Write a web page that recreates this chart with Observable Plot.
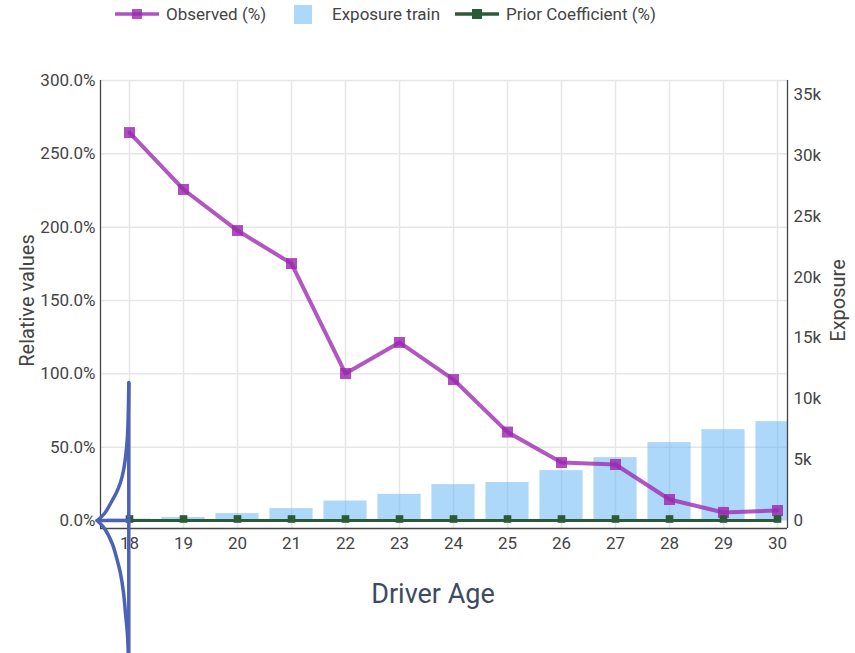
<!DOCTYPE html>
<html><head><meta charset="utf-8">
<script src="https://cdn.jsdelivr.net/npm/d3@7"></script>
<script src="https://cdn.jsdelivr.net/npm/@observablehq/plot@0.6"></script>
<style>
body{margin:0;background:#fff;font-family:Roboto,sans-serif;}
#legend{position:relative;width:855px;height:30px;font-size:17px;color:#444;}
.item{position:absolute;top:3px;height:22px;display:flex;align-items:center;white-space:nowrap;}
#chart svg{display:block;overflow:visible;}
</style></head><body>
<div id="legend"></div>
<div id="chart"></div>
<script>
// ---- data ----
const ages = [18, 19, 20, 21, 22, 23, 24, 25, 26, 27, 28, 29, 30];
const observed = [264.5, 225.7, 197.7, 175.2, 100.2, 121.4, 96.1, 60.3, 39.5, 38.2, 14.3, 5.5, 6.8];
const exposure = [120, 250, 570, 980, 1600, 2150, 2950, 3120, 4100, 5170, 6400, 7460, 8120];
const prior = [0, 0, 0, 0, 0, 0, 0, 0, 0, 0, 0, 0, 0];
const pctTicks = [0, 50, 100, 150, 200, 250, 300];
const expTicks = [0, 5000, 10000, 15000, 20000, 25000, 30000, 35000];
const seriesNames = ["Observed (%)", "Exposure train", "Prior Coefficient (%)"];
const xTitle = "Driver Age";
const yTitle = "Relative values";
const y2Title = "Exposure";
// blue cusp annotation drawn over the 18 position
const cuspAge = [17.402, 17.537, 17.680, 17.759, 17.833, 17.889, 17.926, 17.963, 17.987];
const cuspUpper = [0, 4.77, 13.64, 19.09, 25.91, 34.09, 42.95, 57.95, 93.41];
const cuspLower = [0, -5.45, -15.68, -25.23, -36.14, -49.09, -63.41, -78.41, -102.27];
const cuspStem = [94.1, -102.3];

// ---- scales ----
const xDomain = [17.463, 30.185];
const yDomain = [-5.4545, 300];
const expMax = 36150;             // exposure value at the top of the frame
const k = yDomain[1] / expMax;    // exposure -> percent scale

const colObs = "#9c27b0", colExp = "#64b5f6", colPrior = "#2b5b36", colCusp = "#4c62b4";

const rows = ages.map((a, i) => ({age: a, obs: observed[i], exp: exposure[i], prior: prior[i]}));
const cuspCurves = [
  ...cuspAge.map((a, i) => ({x: a, y: cuspUpper[i], z: "up"})),
  ...cuspAge.map((a, i) => ({x: a, y: cuspLower[i], z: "down"}))
];
const cuspLines = [
  {x: cuspAge[0], y: 0, z: "h"}, {x: cuspAge[8], y: 0, z: "h"},
  {x: cuspAge[8], y: cuspStem[0], z: "v"}, {x: cuspAge[8], y: cuspStem[1], z: "v"}
];

const chart = Plot.plot({
  width: 855,
  height: 623,
  marginTop: 50,
  marginBottom: 125,
  marginLeft: 100,
  marginRight: 68,
  style: {fontFamily: "Roboto, sans-serif", fontSize: "17px", color: "#444", background: "white"},
  x: {type: "linear", domain: xDomain},
  y: {type: "linear", domain: yDomain},
  marks: [
    Plot.gridY(pctTicks, {stroke: "#e6e6e6", strokeOpacity: 1, strokeWidth: 1.5}),
    Plot.gridX(ages, {stroke: "#e6e6e6", strokeOpacity: 1, strokeWidth: 1.5}),
    Plot.rectY(rows, {x1: d => d.age - 0.4, x2: d => d.age + 0.4, y1: 0, y2: d => d.exp * k,
      fill: colExp, fillOpacity: 0.52, clip: true}),
    Plot.line(rows, {x: "age", y: "obs", stroke: colObs, strokeWidth: 4, strokeOpacity: 0.78}),
    Plot.dot(rows, {x: "age", y: "obs", symbol: "square", r: 6.2, fill: colObs, fillOpacity: 0.82, stroke: "none"}),
    Plot.line(rows, {x: "age", y: "prior", stroke: colPrior, strokeWidth: 3}),
    Plot.dot(rows, {x: "age", y: "prior", symbol: "square", r: 4.3, fill: colPrior, dy: -1.5, stroke: "none"}),
    Plot.ruleX([xDomain[0]], {stroke: "#444", strokeWidth: 1.3}),
    Plot.ruleX([xDomain[1]], {stroke: "#444", strokeWidth: 1.3}),
    Plot.ruleY([yDomain[0]], {stroke: "#444", strokeWidth: 1.3}),
    Plot.axisY(pctTicks, {anchor: "left", tickSize: 0, tickPadding: 5, label: null,
      tickFormat: d => d.toFixed(1) + "%"}),
    Plot.axisY(expTicks.map(e => e * k), {anchor: "right", tickSize: 0, tickPadding: 6, label: null,
      tickFormat: d => { const v = Math.round(d / k / 1000); return v === 0 ? "0" : v + "k"; }}),
    Plot.axisX(ages, {anchor: "bottom", tickSize: 0, tickPadding: 8, label: null, tickFormat: d => String(d)}),
    Plot.text([yTitle], {text: d => d, frameAnchor: "left", textAnchor: "middle", lineAnchor: "middle",
      dx: -73, dy: -4, rotate: -90, fontSize: 20, fill: "#444"}),
    Plot.text([y2Title], {text: d => d, frameAnchor: "right", textAnchor: "middle", lineAnchor: "middle",
      dx: 51, dy: -4, rotate: -90, fontSize: 20, fill: "#444"}),
    Plot.text([xTitle], {text: d => d, frameAnchor: "bottom", textAnchor: "middle", lineAnchor: "middle",
      dx: -11, dy: 66, fontSize: 27, fill: "#3e4a63"}),
    Plot.line(cuspCurves, {x: "x", y: "y", z: "z", stroke: colCusp, strokeWidth: 3.5, curve: "catmull-rom"}),
    Plot.line(cuspLines, {x: "x", y: "y", z: "z", stroke: colCusp, strokeWidth: 3.5})
  ]
});
document.getElementById("chart").appendChild(chart);

// ---- legend (HTML, above the SVG) ----
const legend = document.getElementById("legend");
function lineSwatch(color, op) {
  return `<svg width="44" height="12"><line x1="0" y1="6" x2="44" y2="6" stroke="${color}" stroke-width="3.5" stroke-opacity="${op}"/><rect x="17" y="1" width="10" height="10" fill="${color}" fill-opacity="${op}"/></svg>`;
}
const items = [
  {left: 115, html: lineSwatch(colObs, 0.8) + `<span style="margin-left:7px">${seriesNames[0]}</span>`},
  {left: 294, html: `<span style="display:inline-block;width:18px;height:19px;background:${colExp};opacity:0.52"></span><span style="margin-left:20px">${seriesNames[1]}</span>`},
  {left: 455, html: lineSwatch(colPrior, 1) + `<span style="margin-left:7px">${seriesNames[2]}</span>`}
];
for (const it of items) {
  const d = document.createElement("div");
  d.className = "item";
  d.style.left = it.left + "px";
  d.innerHTML = it.html;
  legend.appendChild(d);
}
</script>
</body></html>
